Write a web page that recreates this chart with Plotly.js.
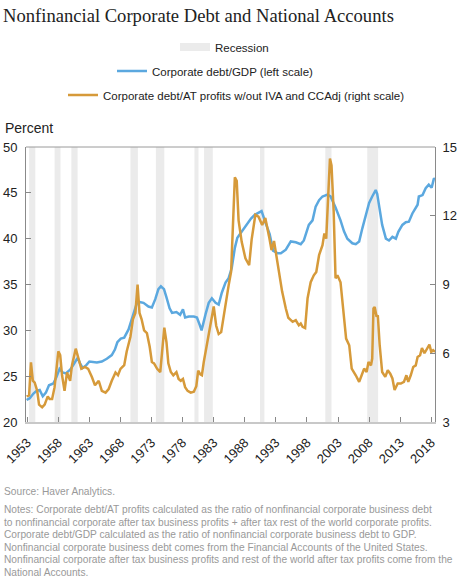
<!DOCTYPE html>
<html><head><meta charset="utf-8">
<script src="https://cdn.plot.ly/plotly-3.0.1.min.js"></script>
<style>html,body{margin:0;padding:0;background:#fff}#chart{width:460px;height:581px}</style>
</head><body><div id="chart"></div>
<script>
// Corporate debt/GDP (left scale, percent)
const gdpYears = [1952.9,1953.4,1954.0,1954.5,1955.0,1955.5,1956.0,1956.5,1957.2,1957.7,1958.2,1958.7,1959.2,1959.9,1960.4,1961.1,1961.5,1961.9,1962.5,1963.0,1964.2,1965.0,1965.8,1966.6,1967.1,1967.5,1968.05,1968.6,1969.3,1969.8,1970.3,1970.6,1971.0,1971.7,1972.5,1973.05,1973.6,1974.1,1974.5,1975.0,1975.4,1975.9,1976.3,1977.0,1977.6,1978.05,1978.4,1979.0,1979.8,1980.3,1980.8,1981.05,1981.7,1982.2,1982.7,1983.3,1983.8,1984.3,1984.9,1985.4,1985.9,1986.4,1986.8,1987.5,1988.3,1989.0,1989.6,1990.2,1990.7,1991.3,1992.0,1992.55,1993.3,1993.8,1994.6,1995.4,1996.2,1997.0,1997.5,1998.3,1998.9,1999.4,1999.95,2000.5,2001.3,2001.8,2002.6,2003.4,2003.96,2004.5,2005.3,2005.85,2006.4,2006.9,2007.45,2008.0,2008.5,2009.06,2009.3,2009.7,2010.1,2010.7,2011.2,2011.75,2012.3,2012.7,2013.35,2013.9,2014.4,2014.96,2015.8,2016.0,2016.6,2017.1,2017.6,2018.06,2018.4,2018.6];
const gdpValues = [22.4,22.6,23.1,23.4,23.5,22.8,23.2,24.0,24.2,24.9,25.8,25.4,25.3,25.7,26.2,27.0,26.4,25.9,26.2,26.6,26.5,26.6,26.9,27.3,27.9,28.7,29.1,29.2,30.1,31.2,32.5,32.9,33.1,33.0,32.6,32.5,33.4,34.5,34.8,34.5,33.6,32.4,31.9,32.0,31.7,32.3,31.4,31.5,31.5,31.4,30.5,30.0,31.8,33.0,33.5,33.0,32.8,34.1,35.2,35.7,36.8,39.0,40.1,40.8,41.5,42.2,42.6,42.8,43.0,41.8,40.5,38.7,38.4,38.4,38.8,39.7,39.6,39.4,39.8,41.5,42.0,43.5,44.2,44.6,44.8,44.6,43.4,42.0,40.8,40.0,39.5,39.4,39.7,41.1,42.6,43.9,44.6,45.3,44.9,43.3,41.5,40.0,39.8,40.2,40.0,40.75,41.5,41.8,41.85,42.75,43.7,44.6,44.75,45.5,45.9,45.55,46.5,46.6];

// Corporate debt/AT profits w/out IVA and CCAdj (right scale)
const profitYears = [1952.9,1953.3,1953.6,1953.9,1954.2,1954.6,1954.9,1955.4,1955.8,1956.3,1956.6,1957.0,1957.4,1957.7,1958.0,1958.3,1958.6,1959.0,1959.4,1959.9,1960.2,1960.8,1961.2,1961.7,1962.3,1962.8,1963.4,1963.9,1964.5,1965.0,1965.6,1966.1,1966.6,1967.2,1967.6,1968.0,1968.6,1969.0,1969.6,1970.0,1970.4,1970.75,1971.06,1971.4,1971.8,1972.25,1972.7,1973.05,1973.4,1973.9,1974.4,1974.8,1975.05,1975.4,1975.7,1976.1,1976.5,1977.0,1977.35,1977.7,1978.05,1978.4,1978.8,1979.3,1979.8,1980.2,1980.5,1980.85,1981.1,1981.4,1981.8,1982.3,1982.6,1983.0,1983.4,1983.8,1984.2,1984.6,1985.0,1985.4,1985.8,1986.1,1986.4,1986.7,1987.0,1987.5,1988.1,1988.7,1989.1,1989.7,1990.2,1990.8,1991.3,1991.9,1992.3,1992.7,1993.2,1993.6,1994.0,1994.6,1995.0,1995.7,1996.2,1996.7,1997.0,1997.3,1997.7,1998.1,1998.6,1999.1,1999.5,1999.95,2000.5,2000.8,2001.1,2001.4,2001.7,2001.95,2002.3,2002.6,2002.9,2003.4,2003.96,2004.3,2004.8,2005.2,2005.85,2006.4,2006.8,2007.2,2007.6,2007.9,2008.3,2008.5,2008.7,2008.9,2009.2,2009.4,2009.7,2010.1,2010.6,2011.0,2011.4,2011.75,2012.1,2012.6,2013.1,2013.6,2014.0,2014.3,2014.7,2015.1,2015.5,2015.8,2016.2,2016.5,2016.9,2017.2,2017.7,2018.0,2018.3,2018.6];
const profitValues = [4.12,4.16,5.6,4.8,4.72,4.36,3.76,3.64,3.76,4.12,4.0,4.0,4.52,5.48,6.08,5.92,5.04,4.36,5.16,4.8,5.48,6.2,5.76,5.32,5.4,5.32,4.96,4.6,4.8,4.36,4.28,4.44,4.8,5.16,5.04,5.32,5.48,6.08,6.72,7.48,7.76,9.0,7.76,7.48,7.0,6.88,6.28,5.62,5.56,5.32,5.18,6.36,7.12,6.48,5.56,5.18,5.04,5.18,4.88,4.8,4.88,4.52,4.36,4.28,4.32,4.56,5.24,5.08,5.04,5.62,6.2,6.92,7.32,8.04,7.2,6.84,6.92,7.64,8.28,8.96,9.56,11.44,13.68,13.52,11.8,10.86,10.14,9.84,10.96,12.04,11.96,11.6,11.9,11.1,10.5,10.9,10.0,9.5,8.7,7.95,7.55,7.37,7.44,7.22,7.3,7.15,7.1,8.4,9.1,9.4,9.55,10.28,10.72,11.23,11.0,12.76,14.5,14.2,12.17,9.27,9.4,9.1,7.52,6.64,6.35,5.33,5.04,4.75,5.04,5.33,5.18,5.62,5.47,5.77,7.95,8.02,7.59,7.66,6.35,5.18,4.97,5.26,5.11,4.9,4.4,4.68,4.68,4.75,5.04,4.75,5.04,5.4,5.47,5.84,5.91,6.23,6.0,6.13,6.38,6.06,6.13,6.06];

// Recessions
const recessionStart = [1953.3,1957.4,1960.1,1969.6,1973.7,1979.9,1981.45,1990.45,2000.95,2007.7];
const recessionEnd   = [1954.3,1958.35,1961.1,1970.8,1975.05,1980.55,1982.85,1991.15,2001.95,2009.45];

const xTickYears = [1953,1958,1963,1968,1973,1978,1983,1988,1993,1998,2003,2008,2013,2018];
const leftTicks = [20,25,30,35,40,45,50];
const rightTicks = [3,6,9,12,15];

const titleText = 'Nonfinancial Corporate Debt and National Accounts';
const unitText = 'Percent';
const legendNames = ['Recession','Corporate debt/GDP (left scale)','Corporate debt/AT profits w/out IVA and CCAdj (right scale)'];
const sourceText = 'Source: Haver Analytics.';
const notesLines = [
  'Notes: Corporate debt/AT profits calculated as the ratio of nonfinancial corporate business debt',
  'to nonfinancial corporate after tax business profits + after tax rest of the world corporate profits.',
  'Corporate debt/GDP calculated as the ratio of nonfinancial corporate business debt to GDP.',
  'Nonfinancial corporate business debt comes from the Financial Accounts of the United States.',
  'Nonfinancial corporate after tax business profits and rest of the world after tax profits come from the',
  'National Accounts.'
];

const W = 460, H = 581;
const M = {l: 26, r: 25, t: 147, b: 159};
const plotH = H - M.t - M.b, plotW = W - M.l - M.r;
const py = p => (H - M.b - p) / plotH;
const px = p => (p - M.l) / plotW;

const blue = '#5ba8df', orange = '#d69a3a', recGray = '#ebebeb';
const font = 'Arial, "Liberation Sans", sans-serif';

const traces = [
  {x: [null], y: [null], type: 'scatter', mode: 'lines', name: legendNames[0],
   line: {color: recGray, width: 8}, legend: 'legend', hoverinfo: 'skip'},
  {x: gdpYears, y: gdpValues, type: 'scatter', mode: 'lines', name: legendNames[1],
   line: {color: blue, width: 2.5}, yaxis: 'y', legend: 'legend2'},
  {x: profitYears, y: profitValues, type: 'scatter', mode: 'lines', name: legendNames[2],
   line: {color: orange, width: 2.5}, yaxis: 'y2', legend: 'legend3'}
];

const shapes = recessionStart.map((s, i) => ({
  type: 'rect', xref: 'x', yref: 'paper', x0: s, x1: recessionEnd[i], y0: 0, y1: 1,
  fillcolor: recGray, line: {width: 0}, layer: 'below'
}));
shapes.push({type: 'line', xref: 'paper', yref: 'paper', x0: 0, x1: 1, y0: 1, y1: 1,
  line: {color: '#9a9a9a', width: 1}});

const legendBase = {orientation: 'h', xanchor: 'left', yanchor: 'middle',
  font: {family: font, size: 11.5, color: '#222'}, bgcolor: 'rgba(0,0,0,0)', borderwidth: 0};

const noteFont = {family: font, size: 10.2, color: '#999'};
const annotations = [
  {text: unitText, xref: 'paper', yref: 'paper', x: px(3), y: py(128), xanchor: 'left', yanchor: 'middle',
   showarrow: false, font: {family: font, size: 14, color: '#222'}},
  {text: sourceText, xref: 'paper', yref: 'paper', x: px(2), y: py(491), xanchor: 'left', yanchor: 'middle',
   showarrow: false, font: noteFont}
];
notesLines.forEach((t, i) => annotations.push({
  text: t, xref: 'paper', yref: 'paper', x: px(2), y: py(509.5 + i * 12.6), xanchor: 'left', yanchor: 'middle',
  showarrow: false, font: noteFont
}));

const layout = {
  width: W, height: H, margin: M, paper_bgcolor: '#fff', plot_bgcolor: '#fff',
  title: {text: titleText, x: 3 / W, xanchor: 'left', xref: 'container', y: 1 - 15 / H, yanchor: 'middle',
    font: {family: '"Liberation Serif", "DejaVu Serif", serif', size: 18.6, color: '#222'}},
  showlegend: true,
  legend: Object.assign({}, legendBase, {x: px(175), y: py(47)}),
  legend2: Object.assign({}, legendBase, {x: px(112), y: py(71)}),
  legend3: Object.assign({}, legendBase, {x: px(63), y: py(95)}),
  xaxis: {range: [1952.8, 2018.6], tickvals: xTickYears, ticktext: xTickYears.map(String),
    tickangle: -45, ticks: 'inside', ticklen: 5, tickcolor: '#888', showgrid: false, zeroline: false,
    showline: true, linecolor: '#c8c8c8', linewidth: 2, tickfont: {family: font, size: 13, color: '#222'},
    ticklabelstandoff: 6},
  yaxis: {range: [20, 50], tickvals: leftTicks, ticks: 'inside', ticklen: 5, tickcolor: '#888',
    showgrid: false, zeroline: false, showline: true, linecolor: '#8a8a8a', linewidth: 1,
    tickfont: {family: font, size: 13, color: '#222'}, ticklabelstandoff: 5},
  yaxis2: {range: [3, 15], tickvals: rightTicks, overlaying: 'y', side: 'right', ticks: 'inside', ticklen: 5,
    tickcolor: '#888', showgrid: false, zeroline: false, showline: true, linecolor: '#8a8a8a', linewidth: 1,
    tickfont: {family: font, size: 13, color: '#222'}, ticklabelstandoff: 4},
  shapes: shapes, annotations: annotations
};

Plotly.newPlot('chart', traces, layout, {displayModeBar: false, staticPlot: true});
</script></body></html>
